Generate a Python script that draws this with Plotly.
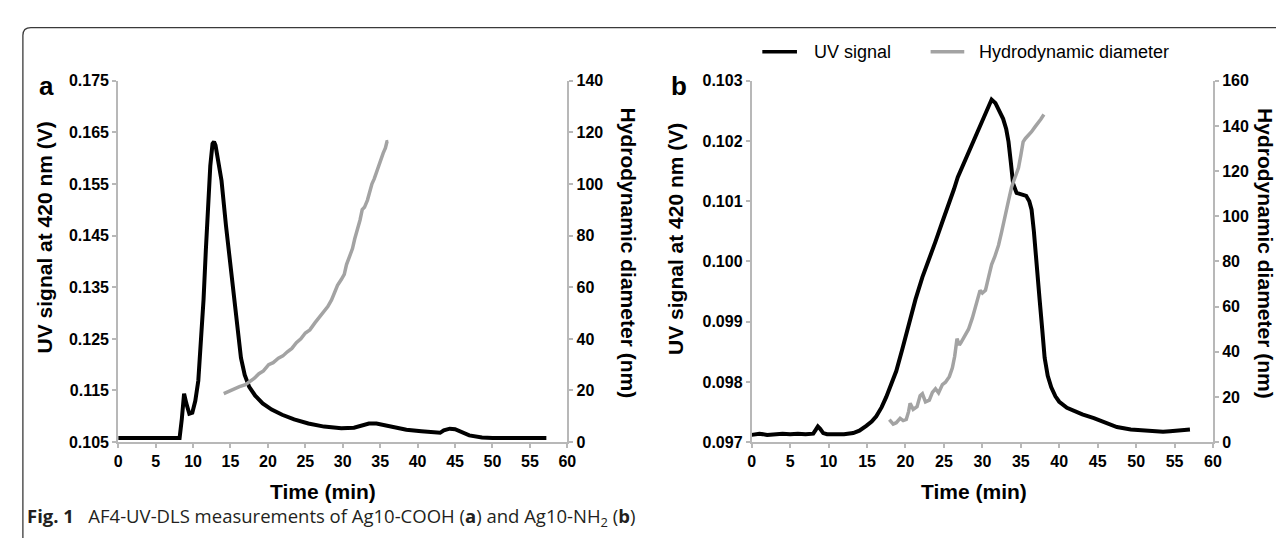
import plotly.graph_objects as go

# ---------------- data ----------------
# Panel a (Ag10-COOH)
uv_a_t = [0, 4.0, 8.2, 8.5, 8.8, 9.1, 9.5, 9.9, 10.3, 10.7, 11.0, 11.4, 11.7, 12.0, 12.3, 12.6, 12.8,
          13.0, 13.4, 13.8, 14.4, 15.0, 15.5, 16.0, 16.4, 16.9, 17.5, 18.3, 19.3, 20.5, 21.9,
          23.5, 25.4, 27.5, 29.8, 31.5, 32.5, 33.5, 34.5, 35.5, 37.0, 38.5, 40.5, 42.5, 43.0,
          43.5, 44.3, 45.0, 45.7, 46.9, 48.6, 50.0, 57.2]
uv_a_v = [0.1058, 0.1058, 0.1058, 0.1095, 0.1144, 0.1125, 0.1105, 0.1107, 0.1130, 0.1169, 0.1230,
          0.1326, 0.1420, 0.1513, 0.1585, 0.1628, 0.1632, 0.1625, 0.1595, 0.1557, 0.1469,
          0.1395, 0.1326, 0.1260, 0.1213, 0.1180, 0.1157, 0.1140, 0.1125, 0.1113, 0.1103,
          0.1094, 0.1086, 0.1080, 0.1077, 0.1078, 0.1082, 0.1086, 0.1086, 0.1083, 0.1078,
          0.1074, 0.1071, 0.1068, 0.1068, 0.1073, 0.1076, 0.1075, 0.1070, 0.1063, 0.1059,
          0.1058, 0.1058]

dls_a_t = [14.1, 14.8, 15.5, 16.2, 17.0, 17.5, 18.2, 18.8, 19.4, 20.1, 20.7, 21.4, 22.0, 22.6,
           23.2, 23.8, 24.4, 25.0, 25.6, 26.3, 26.9, 27.5, 28.0, 28.5, 29.0, 29.3, 29.8, 30.2,
           30.5, 30.9, 31.3, 31.6, 32.0, 32.3, 32.6, 32.9, 33.3, 33.6, 33.9, 34.2, 34.5, 34.8,
           35.1, 35.4, 35.7, 35.9, 36.1]
dls_a_d = [18.8, 19.8, 20.6, 21.5, 22.3, 23.2, 24.8, 26.5, 27.6, 30.0, 30.8, 32.5, 33.4, 35.0,
           36.3, 38.5, 40.0, 42.3, 43.5, 46.3, 48.6, 50.8, 52.5, 55.1, 58.5, 60.8, 63.0, 65.0,
           68.8, 72.0, 75.0, 78.8, 82.5, 86.0, 90.1, 91.0, 93.8, 97.5, 100.1, 102.0, 104.5,
           107.6, 110.0, 112.0, 114.0, 116.4, 116.5]

# Panel b (Ag10-NH2)
uv_b_t = [0.0, 1.0, 2.0, 3.0, 4.0, 5.0, 6.0, 7.0, 8.0, 8.3, 8.6, 8.9, 9.3, 9.8, 11.0, 12.0,
          13.2, 14.0, 14.9, 15.6, 16.2, 16.9, 17.5, 18.2, 18.8, 19.6, 20.5, 21.3, 22.2, 23.0,
          23.9, 24.8, 25.7, 26.3, 26.8, 27.8, 28.7, 29.9, 30.6, 31.2, 31.7, 32.2, 32.7, 33.1,
          33.4, 33.7, 34.0, 34.45, 35.0, 35.7, 36.1, 36.4, 36.7, 37.0, 37.45, 37.8, 38.1, 38.5,
          38.96, 39.5, 40.0, 41.0, 41.96, 43.0, 44.5, 45.3, 46.3, 47.5, 49.3, 51.0, 53.5, 54.4,
          55.5, 57.0]
uv_b_v = [0.09712, 0.09714, 0.09712, 0.09713, 0.09714, 0.09713, 0.09714, 0.09713, 0.09714,
          0.09720, 0.09726, 0.09722, 0.09715, 0.09713, 0.09713, 0.09713, 0.09715, 0.09719,
          0.09727, 0.09734, 0.09743, 0.09758, 0.09775, 0.09796, 0.09818, 0.09855, 0.09899,
          0.09937, 0.09974, 0.10004, 0.10033, 0.10066, 0.10097, 0.10120, 0.10140, 0.10170,
          0.10196, 0.10232, 0.10252, 0.10269, 0.10263, 0.10250, 0.10237, 0.10220, 0.10199,
          0.10165, 0.10129, 0.10114, 0.10112, 0.10109, 0.10100, 0.10086, 0.10050, 0.10011,
          0.09936, 0.09885, 0.09840, 0.09810, 0.09791, 0.09776, 0.09767, 0.09757, 0.09751,
          0.09746, 0.09740, 0.09736, 0.09730, 0.09725, 0.09721, 0.09719, 0.09717, 0.09718,
          0.09719, 0.09721]

dls_b_t = [17.9, 18.4, 18.8, 19.3, 19.7, 20.1, 20.4, 20.6, 21.0, 21.5, 21.9, 22.2, 22.6, 23.1,
           23.5, 23.9, 24.3, 24.8, 25.2, 25.7, 26.1, 26.4, 26.7, 27.0, 27.2, 27.7, 28.2, 28.7,
           29.1, 29.4, 29.7, 30.0, 30.4, 30.8, 31.2, 31.6, 32.1, 32.5, 33.0, 33.4, 33.8, 34.2,
           34.7, 35.0, 35.3, 35.6, 36.0, 36.4, 36.8, 37.2, 37.6, 38.0]
dls_b_d = [10.0, 8.0, 8.6, 10.5, 9.5, 10.0, 13.5, 17.2, 14.5, 15.7, 20.5, 21.4, 17.8, 18.6,
           22.0, 23.6, 21.8, 25.5, 26.5, 29.0, 32.9, 38.0, 45.8, 43.0, 44.0, 47.0, 50.0, 55.0,
           60.0, 64.4, 67.2, 66.0, 67.2, 73.0, 78.6, 82.0, 87.2, 93.0, 101.5, 107.0, 113.0,
           117.0, 121.5, 127.0, 133.0, 134.5, 135.9, 137.5, 139.4, 141.0, 143.0, 145.1]

x_ticks = list(range(0, 61, 5))
left_a_ticks = [0.105, 0.115, 0.125, 0.135, 0.145, 0.155, 0.165, 0.175]
left_b_ticks = [0.097, 0.098, 0.099, 0.100, 0.101, 0.102, 0.103]
right_a_ticks = list(range(0, 141, 20))
right_b_ticks = list(range(0, 161, 20))

legend_labels = ["UV signal", "Hydrodynamic diameter"]
caption = ("<b>Fig. 1</b>&nbsp;&nbsp; AF4-UV-DLS measurements of Ag10-COOH (<b>a</b>) and "
           "Ag10-NH<sub>2</sub> (<b>b</b>)")

# ---------------- layout helpers ----------------
W, H = 1284, 538
def px(x):
    return x / W
def py(y):
    return 1 - y / H

BLACK = "#000000"
GRAY = "#a3a3a3"
AXC = "#b8b8b8"
FONT = "Liberation Sans, Arial, sans-serif"

fig = go.Figure()

fig.add_trace(go.Scatter(x=dls_a_t, y=dls_a_d, xaxis="x", yaxis="y2", mode="lines",
                         line=dict(color=GRAY, width=3.5), showlegend=False))
fig.add_trace(go.Scatter(x=uv_a_t, y=uv_a_v, xaxis="x", yaxis="y", mode="lines",
                         line=dict(color=BLACK, width=4), showlegend=False))
fig.add_trace(go.Scatter(x=dls_b_t, y=dls_b_d, xaxis="x2", yaxis="y4", mode="lines",
                         line=dict(color=GRAY, width=3.5), showlegend=False))
fig.add_trace(go.Scatter(x=uv_b_t, y=uv_b_v, xaxis="x2", yaxis="y3", mode="lines",
                         line=dict(color=BLACK, width=4), showlegend=False))

tickfont = dict(family=FONT, size=16, color="#000", weight="bold")
common = dict(showline=True, linecolor=AXC, linewidth=2, ticks="outside", ticklen=4,
              tickwidth=1.5, tickcolor=AXC, showgrid=False, zeroline=False,
              tickfont=tickfont, fixedrange=True)

dom_ya = [py(440), py(67)]
fig.update_layout(
    width=W, height=H, margin=dict(l=0, r=0, t=0, b=0),
    paper_bgcolor="white", plot_bgcolor="white",
    xaxis=dict(domain=[px(107.3), px(561)], range=[0, 60], tickvals=x_ticks,
               anchor="y", **common),
    yaxis=dict(domain=dom_ya, range=[0.105, 0.175], tickvals=left_a_ticks,
               tickformat=".3f", anchor="x", **common),
    yaxis2=dict(range=[0, 140], tickvals=right_a_ticks, overlaying="y", side="right",
                anchor="x", **common),
    xaxis2=dict(domain=[px(747.3), px(1213.3)], range=[0, 60], tickvals=x_ticks,
                anchor="y3", **common),
    yaxis3=dict(domain=dom_ya, range=[0.097, 0.103], tickvals=left_b_ticks,
                tickformat=".3f", anchor="x2", **common),
    yaxis4=dict(range=[0, 160], tickvals=right_b_ticks, overlaying="y3", side="right",
                anchor="x2", **common),
)

# frame (rounded top-left corner)
r = 8
x0, y0 = 11, 12
path = (f"M {px(x0)},{py(H + 5)} L {px(x0)},{py(y0 + r)} "
        f"Q {px(x0)},{py(y0)} {px(x0 + r)},{py(y0)} L {px(W + 5)},{py(y0)}")
shapes = [dict(type="path", path=path, xref="paper", yref="paper",
               line=dict(color="#3a3a3a", width=1.3))]

# legend
shapes.append(dict(type="line", xref="paper", yref="paper", x0=px(758), x1=px(793),
                   y0=py(37), y1=py(37), line=dict(color=BLACK, width=3.5)))
shapes.append(dict(type="line", xref="paper", yref="paper", x0=px(928), x1=px(962),
                   y0=py(37), y1=py(37), line=dict(color=GRAY, width=3.5)))
fig.update_layout(shapes=shapes)

title_font = dict(family=FONT, size=21, color="#000", weight="bold")
ann = []
def add_text(text, x, y, font, angle=0, xanchor="center"):
    ann.append(dict(text=text, x=px(x), y=py(y), xref="paper", yref="paper",
                    showarrow=False, font=font, textangle=angle, xanchor=xanchor,
                    yanchor="middle"))

legend_font = dict(family=FONT, size=18, color="#000")
add_text(legend_labels[0], 808, 37, legend_font, xanchor="left")
add_text(legend_labels[1], 975, 37, legend_font, xanchor="left")

add_text("a", 35, 72, dict(family=FONT, size=26, color="#000", weight="bold"))
add_text("b", 674, 72, dict(family=FONT, size=26, color="#000", weight="bold"))

add_text("UV signal at 420 nm (V)", 33, 229, title_font, angle=-90)
add_text("UV signal at 420 nm (V)", 671, 230, title_font, angle=-90)
add_text("Hydrodynamic diameter (nm)", 623, 245, title_font, angle=90)
add_text("Hydrodynamic diameter (nm)", 1267, 245, title_font, angle=90)
add_text("Time (min)", 314, 491, title_font)
add_text("Time (min)", 972, 491, title_font)

add_text(caption, 13, 517, dict(family="Open Sans, Noto Sans, sans-serif", size=18.5,
                                color="#231f20"), xanchor="left")
fig.update_layout(annotations=ann)

fig.write_html("out.html")
